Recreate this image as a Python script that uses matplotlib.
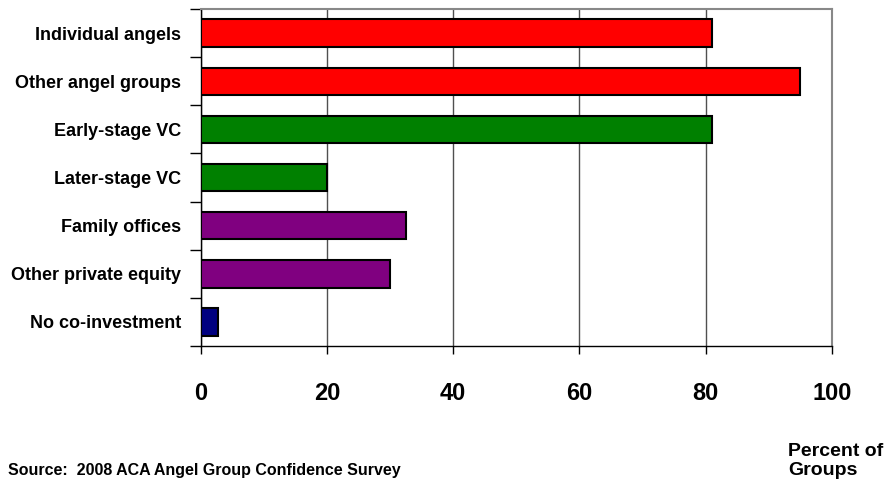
import matplotlib
matplotlib.use("Agg")
import matplotlib.pyplot as plt
import numpy as np

categories = ["Individual angels", "Other angel groups", "Early-stage VC", "Later-stage VC",
              "Family offices", "Other private equity", "No co-investment"]
values = [81, 95, 81, 20, 32.5, 30, 2.7]
colors = ["#FF0000", "#FF0000", "#008000", "#008000", "#800080", "#800080", "#000080"]
xticks = [0, 20, 40, 60, 80, 100]

plt.rcParams['font.family'] = ['Liberation Sans', 'DejaVu Sans']

fig = plt.figure(figsize=(8.88, 4.87), dpi=100)
ax = fig.add_axes([0.226, 0.2895, 0.7108, 0.692])

y = np.arange(len(categories))
ax.barh(y, values, height=0.57, color=colors, edgecolor="black", linewidth=1.5, zorder=3)
ax.set_ylim(len(categories) - 0.5, -0.5)
ax.set_xlim(0, 100)

ax.set_xticks(xticks)
ax.set_xticklabels([str(v) for v in xticks], fontsize=17, fontweight="bold")
ax.tick_params(axis="x", length=6, width=1, pad=20, direction="out")
ax.xaxis.grid(True, color="#505050", linewidth=1, zorder=0)

ax.set_yticks(y)
ax.set_yticklabels(categories, fontsize=13, fontweight="bold")
ax.tick_params(axis="y", length=0, pad=14)
ax.set_yticks(np.arange(-0.5, len(categories) + 0.5, 1), minor=True)
ax.tick_params(axis="y", which="minor", length=8, width=1, direction="out")

for s in ["top", "right"]:
    ax.spines[s].set_color("#888888")
    ax.spines[s].set_linewidth(1.5)
for s in ["left", "bottom"]:
    ax.spines[s].set_color("black")
    ax.spines[s].set_linewidth(1)

fig.text(8 / 888, 1 - 471 / 487, "Source:  2008 ACA Angel Group Confidence Survey",
         fontsize=11.5, fontweight="bold", va="center", ha="left")
fig.text(788 / 888, 1 - 461 / 487, "Percent of\nGroups", fontsize=14, fontweight="bold",
         va="center", ha="left", linespacing=1.1)

fig.savefig("out.png", dpi=100)
